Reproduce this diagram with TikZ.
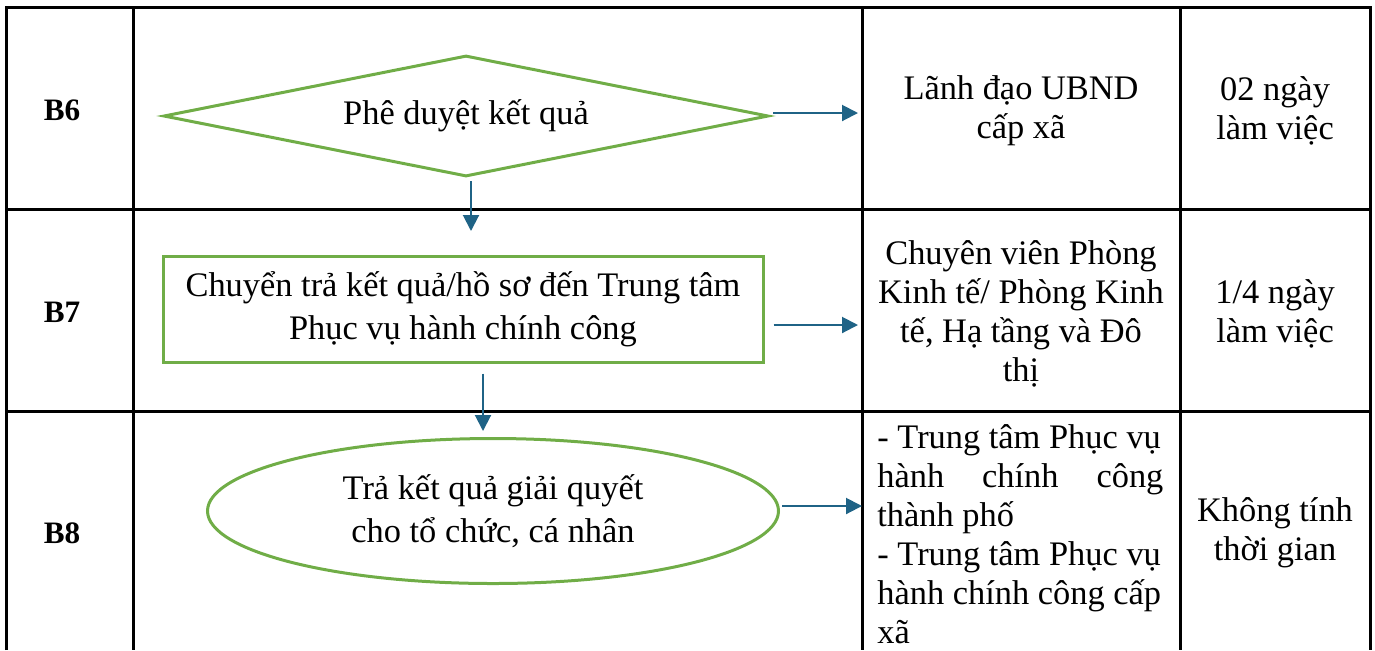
\documentclass[tikz,border=0pt]{standalone}
\usepackage{fontspec}
\setmainfont{Liberation Serif}
\usepackage{tikz}
\usetikzlibrary{shapes.geometric, arrows.meta}
\definecolor{boxgreen}{RGB}{112,173,71}
\definecolor{flowblue}{RGB}{31,99,134}
\tikzset{
    grid/.style={line width=1.5pt, black},
    stepshape/.style={draw=boxgreen, line width=1.5pt, align=center, inner sep=0pt,
        font=\fontsize{17.2}{21.5}\selectfont},
    steplabel/.style={align=center, inner sep=0pt, font=\fontsize{15.6}{19.5}\selectfont\bfseries},
    flow/.style={flowblue, line width=1pt, -{Triangle[length=8pt, width=8pt]}},
    celltext/.style={align=center, inner sep=0pt}
}

\begin{document}
\begin{tikzpicture}[x=0.5pt, y=-0.5pt, font=\fontsize{17.2}{19.5}\selectfont]
        \useasboundingbox (0,0) rectangle (1375,650);

        % ---------------- table ----------------
        \draw[grid] (6,650) -- (6,7) -- (1370,7) -- (1370,650);
        \foreach \x in {133,862,1180} {
            \draw[grid] (\x,7) -- (\x,650);
        }
        \foreach \y in {209,411} {
            \draw[grid] (6,\y) -- (1370,\y);
        }

        % Step labels
        \node[steplabel] (lblSix) at (62,110) {B6};
        \node[steplabel] (lblSeven) at (62,312) {B7};
        \node[steplabel] (lblEight) at (62,533) {B8};

        % ---------------- flow ----------------
        \node[stepshape, diamond, shape aspect=5, minimum width=302.5pt, minimum height=60.5pt] (approve) at (466,116) {Phê duyệt kết quả};
        \node[stepshape, rectangle, minimum width=300pt, minimum height=53pt] (transfer) at (463,309)
            {Chuyển trả kết quả/hồ sơ đến Trung tâm\\Phục vụ hành chính công};
        \node[stepshape, ellipse, minimum width=285.5pt, minimum height=72.5pt] (handover) at (493,511)
            {Trả kết quả giải quyết\\cho tổ chức, cá nhân};

        % Free arrow ends
        \coordinate (tipSixRight) at (858,113);
        \coordinate (tipSixDown) at (471,231);
        \coordinate (tipSevenRight) at (858,325);
        \coordinate (tipSevenDown) at (483,431);
        \coordinate (tipEightRight) at (862,506);

        \draw[flow] ([shift={(3,-3)}]approve.east) -- (tipSixRight);
        \draw[flow] ([shift={(5,3)}]approve.south) -- (tipSixDown);
        \draw[flow] ([xshift=4.5pt]transfer.east |- tipSevenRight) -- (tipSevenRight);
        \draw[flow] ([shift={(20,10)}]transfer.south) -- (tipSevenDown);
        \draw[flow] ([xshift=1pt]handover.east |- tipEightRight) -- (tipEightRight);

        % ---------------- who / time ----------------
        \node[celltext] (whoSix) at (1021,111) {Lãnh đạo UBND\\cấp xã};
        \node[celltext] (timeSix) at (1275,111) {02 ngày\\làm việc};
        \node[celltext] (whoSeven) at (1021,314) {Chuyên viên Phòng\\Kinh tế/ Phòng Kinh\\tế, Hạ tầng và Đô\\thị};
        \node[celltext] (timeSeven) at (1275,314) {1/4 ngày\\làm việc};
        \node[celltext, align=left, anchor=west] (whoEight) at (877,534)
            {- Trung tâm Phục vụ\\\hbox to 143pt{hành\hfill chính\hfill công}\\thành phố\\- Trung tâm Phục vụ\\hành chính công cấp\\xã};
        \node[celltext] (timeEight) at (1275,533) {Không tính\\thời gian};
\end{tikzpicture}
\end{document}
